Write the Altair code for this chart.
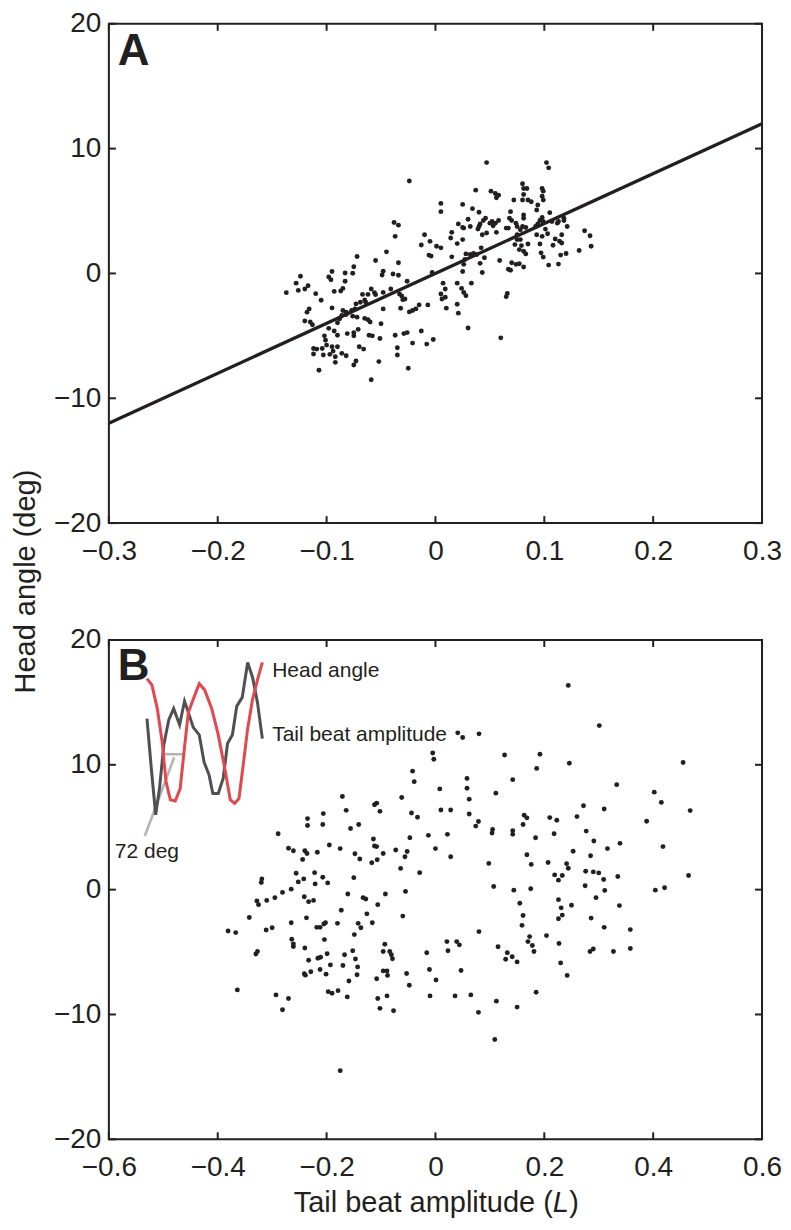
import altair as alt
import pandas as pd

# ---------------- Panel A data ----------------
a_x = [-0.024, -0.038, -0.034, -0.037, -0.010, -0.013, -0.005, 0.001, -0.006, -0.004,
       -0.072, -0.045, -0.055, -0.034, -0.075, -0.095, -0.083, -0.076, -0.124, -0.098,
       -0.096, -0.083, -0.048, -0.049, -0.039, -0.034, -0.128, -0.117, -0.120, -0.126,
       -0.137, -0.110, -0.093, -0.087, -0.085, -0.067, -0.062, -0.059, -0.056, -0.055,
       -0.048, -0.041, -0.026, -0.033, -0.031, -0.030, -0.028, -0.003, -0.105, -0.073,
       -0.069, -0.065, -0.064, -0.074, -0.077, -0.095, -0.116, -0.118, -0.085, -0.082,
       -0.086, -0.082, -0.048, -0.032, -0.024, -0.021, -0.018, -0.015, -0.007, -0.120,
       -0.115, -0.113, -0.088, -0.090, -0.076, -0.072, -0.065, -0.062, -0.060, -0.050,
       -0.098, -0.093, -0.090, -0.081, -0.075, -0.071, -0.075, -0.061, -0.058, -0.102,
       -0.101, -0.100, -0.051, -0.037, -0.029, -0.026, -0.013, -0.002, -0.008, -0.021,
       -0.112, -0.109, -0.112, -0.104, -0.103, -0.095, -0.094, -0.090, -0.097, -0.092,
       -0.086, -0.082, -0.092, -0.070, -0.066, -0.035, -0.035, -0.073, -0.075, -0.052,
       -0.107, -0.025, -0.059,
       0.047, 0.102, 0.104, 0.037, 0.051, 0.055, 0.058, 0.056, 0.080, 0.081,
       0.084, 0.081, 0.080, 0.085, 0.088, 0.098, 0.099, 0.098, 0.099, 0.094,
       0.093, 0.005, 0.005, 0.025, 0.034, 0.040, 0.072, 0.069, 0.068, 0.070,
       0.067, 0.081, 0.081, 0.105, 0.098, 0.096, 0.118, 0.118, 0.121, 0.030,
       0.046, 0.044, 0.041, 0.040, 0.039, 0.050, 0.053, 0.055, 0.058, 0.052,
       0.021, 0.025, 0.026, 0.032, 0.074, 0.075, 0.080, 0.083, 0.078, 0.092,
       0.094, 0.099, 0.101, 0.107, 0.112, 0.113, 0.015, 0.014, 0.043, 0.047,
       0.056, 0.065, 0.075, 0.075, 0.093, 0.098, 0.103, 0.116, 0.116, 0.110,
       0.108, 0.114, 0.137, 0.142, 0.143, 0.025, 0.020, 0.005, 0.078, 0.085,
       0.079, 0.073, 0.077, 0.081, 0.096, 0.042, 0.028, 0.032, 0.035, 0.038,
       0.045, 0.097, 0.099, 0.115, 0.120, 0.132, 0.015, 0.027, 0.026, 0.041,
       0.059, 0.083, 0.070, 0.074, 0.077, 0.081, 0.067, 0.069, 0.104, 0.113,
       0.025, 0.043, 0.007, 0.020, 0.033, 0.009, 0.005, 0.006, 0.009, 0.024,
       0.026, 0.028, 0.066, 0.065, 0.010, 0.020, 0.021, 0.030, 0.060]
a_y = [7.41, 4.08, 3.87, 2.97, 3.10, 2.28, 2.57, 2.18, 1.47, 1.39,
       1.36, 1.73, 1.04, 0.86, 0.54, 0.15, 0.04, 0.02, -0.22, -0.28,
       -0.51, -0.62, 0.17, -0.12, -0.04, -0.15, -0.78, -0.99, -1.25, -1.36,
       -1.54, -1.62, -1.44, -1.41, -1.20, -1.68, -1.68, -1.25, -1.54, -1.70,
       -1.52, -1.25, -0.62, -1.65, -1.81, -2.10, -2.05, 0.07, -2.15, -2.44,
       -2.31, -2.13, -2.31, -2.84, -2.97, -2.76, -2.84, -3.10, -2.97, -3.10,
       -3.37, -3.29, -2.84, -2.79, -3.08, -2.97, -2.84, -2.52, -2.52, -3.81,
       -3.89, -4.11, -3.63, -3.95, -3.42, -3.50, -3.60, -3.71, -3.89, -4.03,
       -4.40, -4.61, -4.95, -4.82, -4.74, -4.48, -5.00, -4.95, -5.00, -5.00,
       -5.35, -5.74, -5.21, -4.95, -4.82, -4.74, -4.61, -5.29, -5.66, -5.58,
       -6.01, -6.06, -6.45, -6.01, -6.53, -5.87, -6.22, -5.87, -6.48, -6.67,
       -6.40, -6.59, -7.12, -5.87, -6.06, -5.95, -6.53, -7.01, -7.33, -7.06,
       -7.75, -7.59, -8.52,
       8.88, 8.88, 8.46, 6.67, 6.59, 6.40, 6.27, 6.06, 7.19, 6.80,
       6.80, 6.32, 5.88, 5.88, 5.74, 6.80, 6.59, 6.19, 5.88, 5.48,
       5.08, 5.61, 4.95, 5.53, 5.19, 4.90, 5.88, 4.95, 4.42, 4.24,
       3.63, 4.69, 4.42, 4.87, 4.48, 4.24, 4.42, 4.24, 3.76, 4.34,
       4.42, 4.24, 3.97, 3.76, 3.55, 4.03, 3.82, 4.03, 4.24, 4.16,
       3.97, 3.68, 3.63, 3.76, 4.03, 3.76, 3.76, 3.68, 3.50, 3.76,
       3.97, 4.16, 3.55, 4.16, 4.03, 4.16, 3.29, 2.84, 3.10, 3.24,
       3.29, 3.63, 3.10, 2.71, 3.10, 2.97, 3.18, 3.10, 2.44, 2.76,
       2.26, 2.58, 3.42, 3.02, 2.18, 2.71, 2.39, 2.05, 2.71, 2.36,
       2.23, 2.31, 1.91, 1.78, 2.36, 2.05, 1.57, 1.52, 1.60, 1.52,
       1.26, 1.65, 1.31, 1.47, 1.60, 1.84, 1.33, 1.12, 0.73, 0.81,
       1.04, 1.57, 0.86, 0.73, 0.78, 0.52, 0.33, 0.25, 0.67, 0.75,
       0.15, 0.07, -0.78, -0.78, -0.78, -1.25, -1.65, -2.05, -1.91, -1.20,
       -1.52, -1.78, -1.60, -1.86, -2.78, -2.47, -3.18, -4.37, -5.16]

# regression line (panel A)
fit_x = [-0.3, 0.3]
fit_y = [-12.0, 12.0]

# ---------------- Panel B data ----------------
b_x = [-0.005, -0.003, -0.042, -0.039, 0.008, -0.171, -0.062, -0.112, -0.108, -0.164,
       -0.102, -0.044, -0.033, 0.010, 0.028, -0.235, -0.235, -0.206, -0.207, -0.156,
       -0.141, -0.289, -0.013, 0.022, -0.114, -0.047, -0.112, -0.108, -0.270, -0.261,
       -0.240, -0.236, -0.244, -0.217, -0.195, -0.175, -0.148, -0.139, -0.096, -0.117,
       -0.107, -0.073, -0.056, -0.052, 0.000, 0.028, -0.064, -0.029, -0.256, -0.252,
       -0.242, -0.222, -0.221, -0.207, -0.198, -0.150, -0.319, -0.320, -0.265, -0.281,
       -0.295, -0.310, -0.328, -0.325, -0.241, -0.233, -0.224, -0.161, -0.133, -0.128,
       -0.092, -0.106, -0.055, -0.173, -0.126, -0.342, -0.237, -0.060, -0.265, -0.218,
       -0.212, -0.205, -0.202, -0.180, -0.142, -0.137, -0.116, -0.381, -0.367, -0.311,
       -0.300, -0.149, -0.264, -0.261, -0.261, -0.204, -0.240, -0.327, -0.330, -0.093,
       -0.096, -0.084, -0.081, -0.079, 0.021, 0.039, 0.023, -0.016, -0.167, -0.152,
       -0.199, -0.233, -0.216, -0.211, -0.147, -0.193, -0.170, -0.143, -0.212, -0.201,
       -0.241, -0.239, -0.229, -0.144, -0.096, -0.089, -0.088, -0.053, -0.011, -0.108,
       -0.159, 0.001, -0.048, -0.364, -0.293, -0.270, -0.281, -0.197, -0.190, -0.179,
       -0.162, -0.106, -0.089, -0.102, -0.077, -0.010, 0.036, -0.175,
       0.244, 0.301, 0.041, 0.050, 0.080, 0.127, 0.192, 0.186, 0.246, 0.455,
       0.058, 0.058, 0.062, 0.062, 0.142, 0.111, 0.333, 0.402, 0.415, 0.468,
       0.272, 0.310, 0.260, 0.388, 0.079, 0.074, 0.163, 0.168, 0.161, 0.210,
       0.223, 0.105, 0.104, 0.142, 0.142, 0.184, 0.218, 0.277, 0.291, 0.316,
       0.339, 0.418, 0.253, 0.285, 0.168, 0.176, 0.098, 0.207, 0.241, 0.244,
       0.219, 0.226, 0.233, 0.276, 0.290, 0.300, 0.309, 0.335, 0.465, 0.275,
       0.311, 0.404, 0.421, 0.107, 0.144, 0.175, 0.295, 0.226, 0.231, 0.250,
       0.155, 0.338, 0.161, 0.159, 0.226, 0.233, 0.286, 0.310, 0.358, 0.080,
       0.204, 0.173, 0.170, 0.178, 0.181, 0.227, 0.044, 0.115, 0.132, 0.129,
       0.141, 0.150, 0.284, 0.290, 0.327, 0.358, 0.230, 0.242, 0.047, 0.185,
       0.065, 0.112, 0.079, 0.150, 0.109]
b_y = [10.94, 10.44, 9.49, 8.65, 8.07, 7.46, 7.38, 6.80, 6.93, 6.35,
       6.27, 6.14, 5.80, 6.38, 6.38, 5.69, 5.14, 6.09, 5.22, 4.90,
       5.22, 4.48, 4.35, 4.43, 4.06, 4.16, 3.50, 3.45, 3.32, 3.11,
       3.11, 2.89, 2.42, 3.00, 3.58, 3.29, 2.87, 2.45, 2.89, 2.15,
       2.39, 3.18, 2.63, 3.05, 3.29, 2.63, 1.70, 1.36, 1.31, 0.62,
       0.86, 1.36, 0.46, 0.99, 0.54, 0.96, 0.86, 0.57, 0.04, -0.22,
       -0.64, -0.86, -0.91, -1.20, -0.57, -0.96, -0.86, -0.35, -0.64, -0.75,
       -0.35, -1.20, -0.14, -1.65, -1.94, -2.23, -2.26, -2.12, -2.65, -3.02,
       -3.02, -2.75, -2.65, -2.70, -2.70, -3.05, -2.65, -3.31, -3.44, -3.23,
       -3.05, -3.60, -3.97, -4.34, -4.55, -4.00, -4.68, -4.95, -5.16, -4.37,
       -4.95, -4.95, -5.21, -5.53, -4.16, -4.16, -4.90, -5.05, -5.21, -4.90,
       -5.13, -5.66, -5.50, -5.42, -5.55, -6.03, -6.08, -6.19, -6.40, -6.77,
       -6.74, -6.85, -6.58, -6.82, -6.51, -6.51, -6.87, -6.72, -6.40, -7.14,
       -7.32, -7.24, -7.66, -8.03, -8.43, -8.72, -9.62, -8.17, -8.30, -8.09,
       -8.59, -8.72, -8.51, -9.51, -9.70, -8.51, -8.51, -14.50,
       16.36, 13.14, 12.56, 12.19, 12.48, 10.79, 10.84, 9.71, 10.13, 10.18,
       8.91, 8.12, 7.25, 6.06, 8.81, 7.73, 8.41, 7.81, 6.99, 6.33,
       6.72, 6.46, 5.85, 5.48, 5.46, 5.09, 5.96, 5.75, 5.22, 5.77,
       5.56, 4.82, 4.53, 4.72, 4.43, 4.16, 4.48, 4.69, 3.90, 3.29,
       3.71, 3.45, 3.08, 2.71, 2.79, 2.02, 2.10, 2.18, 2.08, 1.71,
       1.18, 0.76, 1.13, 1.47, 1.42, 1.34, 0.81, 1.05, 1.13, 0.31,
       -0.06, -0.04, 0.15, 0.25, -0.04, 0.07, -0.64, -0.80, -1.46, -1.25,
       -1.09, -1.28, -2.07, -2.86, -2.33, -2.04, -2.28, -3.02, -3.20, -3.36,
       -3.68, -3.76, -4.16, -4.47, -4.95, -4.31, -4.42, -4.58, -5.05, -5.58,
       -5.37, -5.79, -4.95, -4.76, -4.95, -4.71, -5.87, -6.87, -6.48, -8.22,
       -8.43, -8.93, -9.83, -9.41, -12.00]

# inset traces (panel B)
head_x = [-0.530, -0.521, -0.511, -0.502, -0.495, -0.487, -0.478, -0.469, -0.462, -0.454,
          -0.445, -0.434, -0.424, -0.411, -0.399, -0.387, -0.377, -0.369, -0.361, -0.354,
          -0.345, -0.336, -0.327, -0.318]
head_y = [16.9, 16.4, 14.5, 11.8, 8.65, 7.2, 7.1, 8.1, 11.0, 14.2,
          15.25, 16.5, 16.0, 14.5, 12.4, 9.7, 7.2, 6.9, 7.3, 9.7,
          12.9, 15.25, 16.8, 18.2]
tail_x = [-0.530, -0.522, -0.514, -0.507, -0.499, -0.490, -0.481, -0.470, -0.461, -0.454,
          -0.445, -0.434, -0.425, -0.416, -0.409, -0.399, -0.390, -0.382, -0.373, -0.365,
          -0.355, -0.345, -0.336, -0.327, -0.318]
tail_y = [13.7, 9.7, 6.0, 8.1, 11.6, 13.6, 14.5, 13.2, 15.1, 14.2,
          13.0, 12.4, 10.2, 9.2, 7.7, 7.7, 8.9, 11.7, 12.4, 14.7,
          15.4, 18.2, 17.0, 15.0, 12.1]
ang_h_x = [-0.499, -0.464]
ang_h_y = [10.85, 10.85]
ang_d_x = [-0.534, -0.480]
ang_d_y = [4.3, 10.6]

inset_labels = ["Head angle", "Tail beat amplitude", "72 deg"]
inset_lab_x = [-0.300, -0.300, -0.589]
inset_lab_y = [17.52, 12.37, 3.0]

# ticks
a_xticks = [-0.3, -0.2, -0.1, 0.0, 0.1, 0.2, 0.3]
b_xticks = [-0.6, -0.4, -0.2, 0.0, 0.2, 0.4, 0.6]
yticks = [-20, -10, 0, 10, 20]

# ---------------- styling ----------------
W, H = 654, 500
GAP = 117
INK = "#231f20"
FONT = "Liberation Sans"
TICK = 7
RED = "#e5474f"
DGRAY = "#505052"
LGRAY = "#b4b4b4"


def encodings(xdom, xticks):
    X = alt.X("x:Q", scale=alt.Scale(domain=xdom, nice=False, zero=False),
              axis=alt.Axis(values=xticks, format=".1~f", title=None, ticks=False, tickSize=0,
                            domain=False, grid=False, labelPadding=14, labelFlush=False,
                            labelOverlap=False, labelFontSize=28, labelFont=FONT, labelColor=INK))
    Y = alt.Y("y:Q", scale=alt.Scale(domain=[-20, 20], nice=False, zero=False),
              axis=alt.Axis(values=yticks, format="d", title=None, ticks=False, tickSize=0,
                            domain=False, grid=False, labelPadding=8, labelFlush=False,
                            labelOverlap=False, labelFontSize=28, labelFont=FONT, labelColor=INK))
    return X, Y


def tick_layers(X, Y, xticks):
    xt = pd.DataFrame({"x": xticks})
    yt = pd.DataFrame({"y": yticks})
    r = dict(color=INK, strokeWidth=2)
    return [
        alt.Chart(xt).mark_rule(**r).encode(x=X, y=alt.value(H), y2=alt.value(H - TICK)),
        alt.Chart(xt).mark_rule(**r).encode(x=X, y=alt.value(0), y2=alt.value(TICK)),
        alt.Chart(yt).mark_rule(**r).encode(y=Y, x=alt.value(0), x2=alt.value(TICK)),
        alt.Chart(yt).mark_rule(**r).encode(y=Y, x=alt.value(W - TICK), x2=alt.value(W)),
    ]


one = pd.DataFrame({"k": [0]})

# ---------------- Panel A ----------------
XA, YA = encodings([-0.3, 0.3], a_xticks)
pts_a = alt.Chart(pd.DataFrame({"x": a_x, "y": a_y})).mark_circle(
    size=24, color=INK, opacity=1).encode(x=XA, y=YA)
fit = alt.Chart(pd.DataFrame({"x": fit_x, "y": fit_y})).mark_line(
    color=INK, strokeWidth=3.3).encode(x=XA, y=YA)
lab_a = alt.Chart(one).mark_text(text="A", font=FONT, fontSize=44, fontWeight="bold",
                                 align="left", baseline="alphabetic", color=INK).encode(
    x=alt.value(9), y=alt.value(41))
ytitle = alt.Chart(one).mark_text(text="Head angle (deg)", font=FONT, fontSize=29, angle=270,
                                  align="center", baseline="alphabetic", color=INK).encode(
    x=alt.value(-74), y=alt.value(H + GAP / 2))
panel_a = alt.layer(*tick_layers(XA, YA, a_xticks), fit, pts_a, lab_a, ytitle).properties(
    width=W, height=H)

# ---------------- Panel B ----------------
XB, YB = encodings([-0.6, 0.6], b_xticks)
pts_b = alt.Chart(pd.DataFrame({"x": b_x, "y": b_y})).mark_circle(
    size=24, color=INK, opacity=1).encode(x=XB, y=YB)
ang_h = alt.Chart(pd.DataFrame({"x": ang_h_x, "y": ang_h_y})).mark_line(
    color=LGRAY, strokeWidth=2.6).encode(x=XB, y=YB)
ang_d = alt.Chart(pd.DataFrame({"x": ang_d_x, "y": ang_d_y})).mark_line(
    color=LGRAY, strokeWidth=2.6).encode(x=XB, y=YB)
tail = alt.Chart(pd.DataFrame({"x": tail_x, "y": tail_y})).mark_line(
    color=DGRAY, strokeWidth=3).encode(x=XB, y=YB)
head = alt.Chart(pd.DataFrame({"x": head_x, "y": head_y})).mark_line(
    color=RED, strokeWidth=3).encode(x=XB, y=YB)
inset_text = alt.Chart(pd.DataFrame({"x": inset_lab_x, "y": inset_lab_y, "t": inset_labels})).mark_text(
    font=FONT, fontSize=21, align="left", baseline="middle", color=INK).encode(
    x=XB, y=YB, text="t:N")
lab_b = alt.Chart(one).mark_text(text="B", font=FONT, fontSize=44, fontWeight="bold",
                                 align="left", baseline="alphabetic", color=INK).encode(
    x=alt.value(9), y=alt.value(40))
XT_Y = H + 73
XT_SPLIT = W / 2 + 117.5
xt1 = alt.Chart(one).mark_text(text="Tail beat amplitude (", font=FONT, fontSize=29,
                               align="right", baseline="alphabetic", color=INK).encode(
    x=alt.value(XT_SPLIT), y=alt.value(XT_Y))
xt2 = alt.Chart(one).mark_text(text="L", font=FONT, fontSize=29, fontStyle="italic",
                               align="left", baseline="alphabetic", color=INK).encode(
    x=alt.value(XT_SPLIT), y=alt.value(XT_Y))
xt3 = alt.Chart(one).mark_text(text=")", font=FONT, fontSize=29,
                               align="left", baseline="alphabetic", color=INK).encode(
    x=alt.value(XT_SPLIT + 16.5), y=alt.value(XT_Y))
panel_b = alt.layer(*tick_layers(XB, YB, b_xticks), ang_h, ang_d, tail, head, pts_b,
                    inset_text, lab_b, xt1, xt2, xt3).properties(width=W, height=H)

chart = alt.vconcat(panel_a, panel_b, spacing=GAP, bounds="flush").properties(
    padding={"top": 0, "left": 3, "right": 0, "bottom": 0},
    background="white").configure_view(stroke=INK, strokeWidth=2)

chart.save("out.html", embed_options={"renderer": "svg", "actions": False})
